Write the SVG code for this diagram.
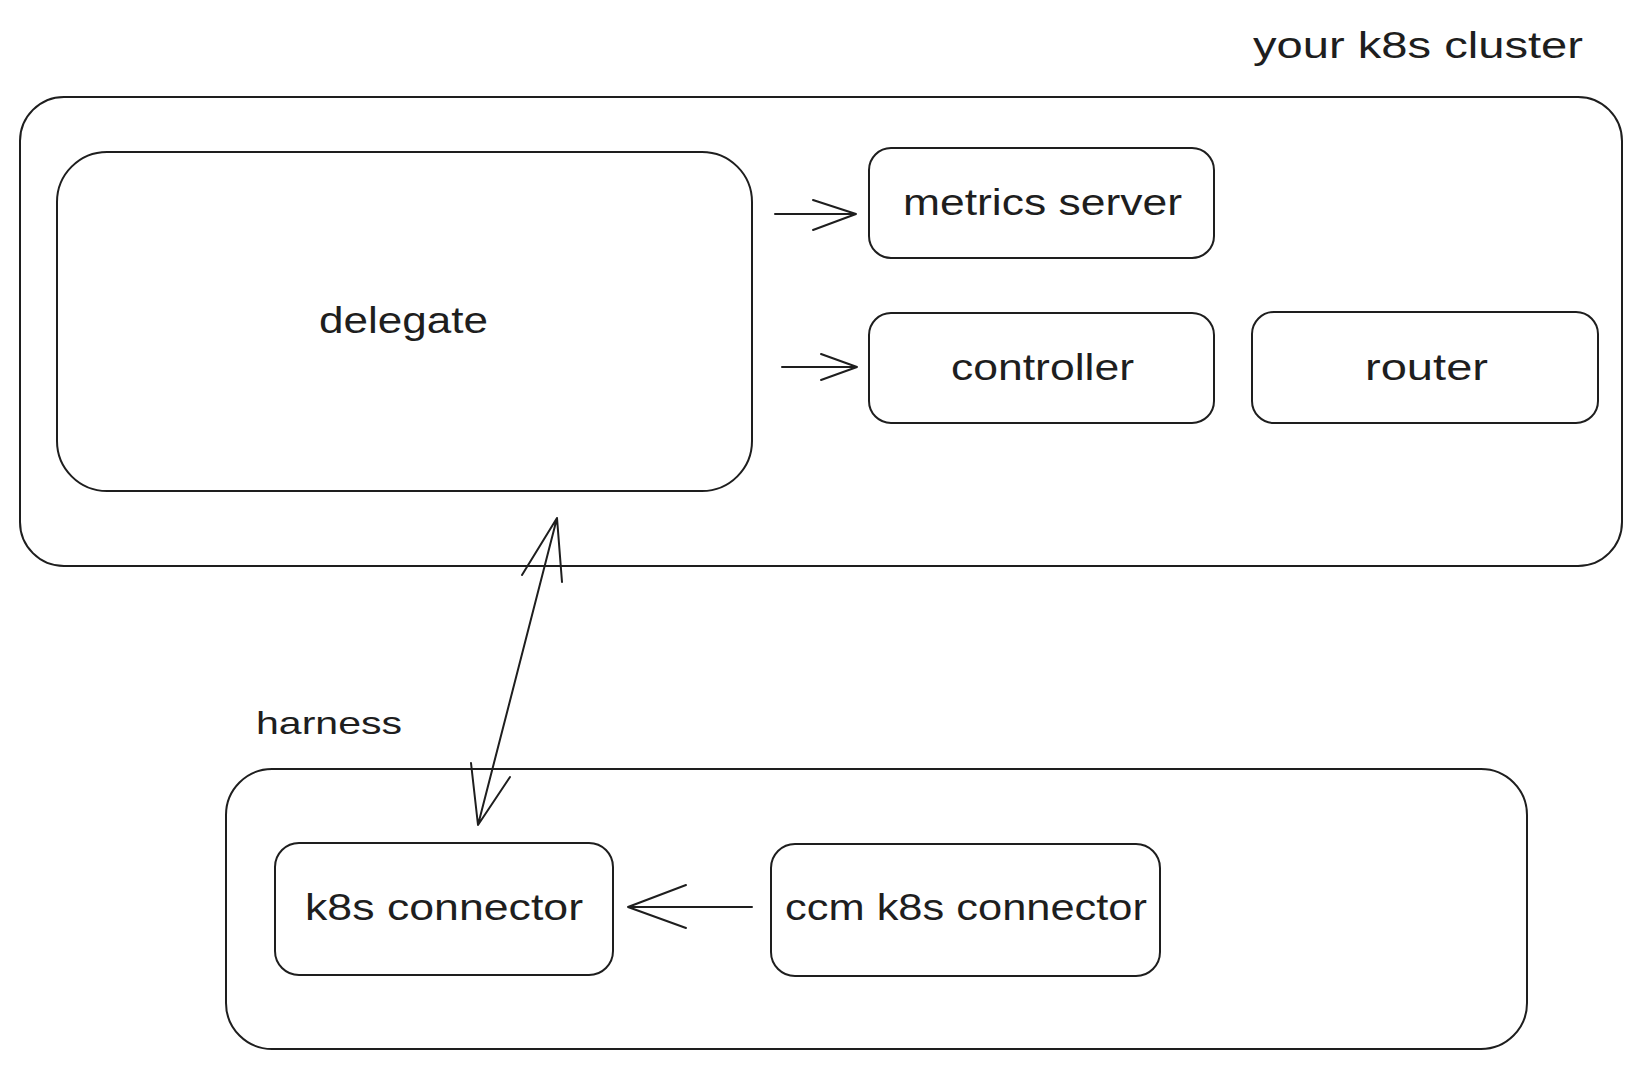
<svg xmlns="http://www.w3.org/2000/svg" width="1642" height="1069" viewBox="0 0 1642 1069">
<style>
.box{fill:none;stroke:#1e1e1e;stroke-width:2;stroke-linecap:round;stroke-linejoin:round}
.ln{fill:none;stroke:#1e1e1e;stroke-width:2;stroke-linecap:round;stroke-linejoin:round}
.t{font-family:"Liberation Sans","DejaVu Sans",sans-serif;fill:#1e1e1e;font-size:36px}
.s{font-size:32px}
</style>
<rect width="1642" height="1069" fill="#ffffff"/>
<g id="cluster">
<rect class="box" x="20" y="97" width="1602" height="469" rx="44"/>
<text class="t" x="1253" y="58" textLength="330" lengthAdjust="spacingAndGlyphs">your k8s cluster</text>
</g>
<g id="delegate">
<rect class="box" x="57" y="152" width="695" height="339" rx="50"/>
<text class="t" x="319" y="333" textLength="169" lengthAdjust="spacingAndGlyphs">delegate</text>
</g>
<g id="metrics-server">
<rect class="box" x="869" y="148" width="345" height="110" rx="22"/>
<text class="t" x="903" y="215" textLength="279" lengthAdjust="spacingAndGlyphs">metrics server</text>
</g>
<g id="controller">
<rect class="box" x="869" y="313" width="345" height="110" rx="22"/>
<text class="t" x="951" y="380" textLength="183" lengthAdjust="spacingAndGlyphs">controller</text>
</g>
<g id="router">
<rect class="box" x="1252" y="312" width="346" height="111" rx="22"/>
<text class="t" x="1365" y="380" textLength="123" lengthAdjust="spacingAndGlyphs">router</text>
</g>
<g id="harness">
<rect class="box" x="226" y="769" width="1301" height="280" rx="46"/>
<text class="t s" x="256" y="734" textLength="146" lengthAdjust="spacingAndGlyphs">harness</text>
</g>
<g id="k8s-connector">
<rect class="box" x="275" y="843" width="338" height="132" rx="24"/>
<text class="t" x="305" y="920" textLength="278" lengthAdjust="spacingAndGlyphs">k8s connector</text>
</g>
<g id="ccm-k8s-connector">
<rect class="box" x="771" y="844" width="389" height="132" rx="24"/>
<text class="t" x="785" y="920" textLength="362" lengthAdjust="spacingAndGlyphs">ccm k8s connector</text>
</g>
<g id="connectors">
<path class="ln" d="M775 214 L856 214 M813 200 L856 214 L813 230"/>
<path class="ln" d="M782 367 L857 367 M821 354 L857 367 L821 380"/>
<path class="ln" d="M557 518 L478 825 M522 575 L557 518 L562 582 M471 763 L478 825 L510 777"/>
<path class="ln" d="M752 907 L628 907 M686 885 L628 907 L686 928"/>
</g>
</svg>
